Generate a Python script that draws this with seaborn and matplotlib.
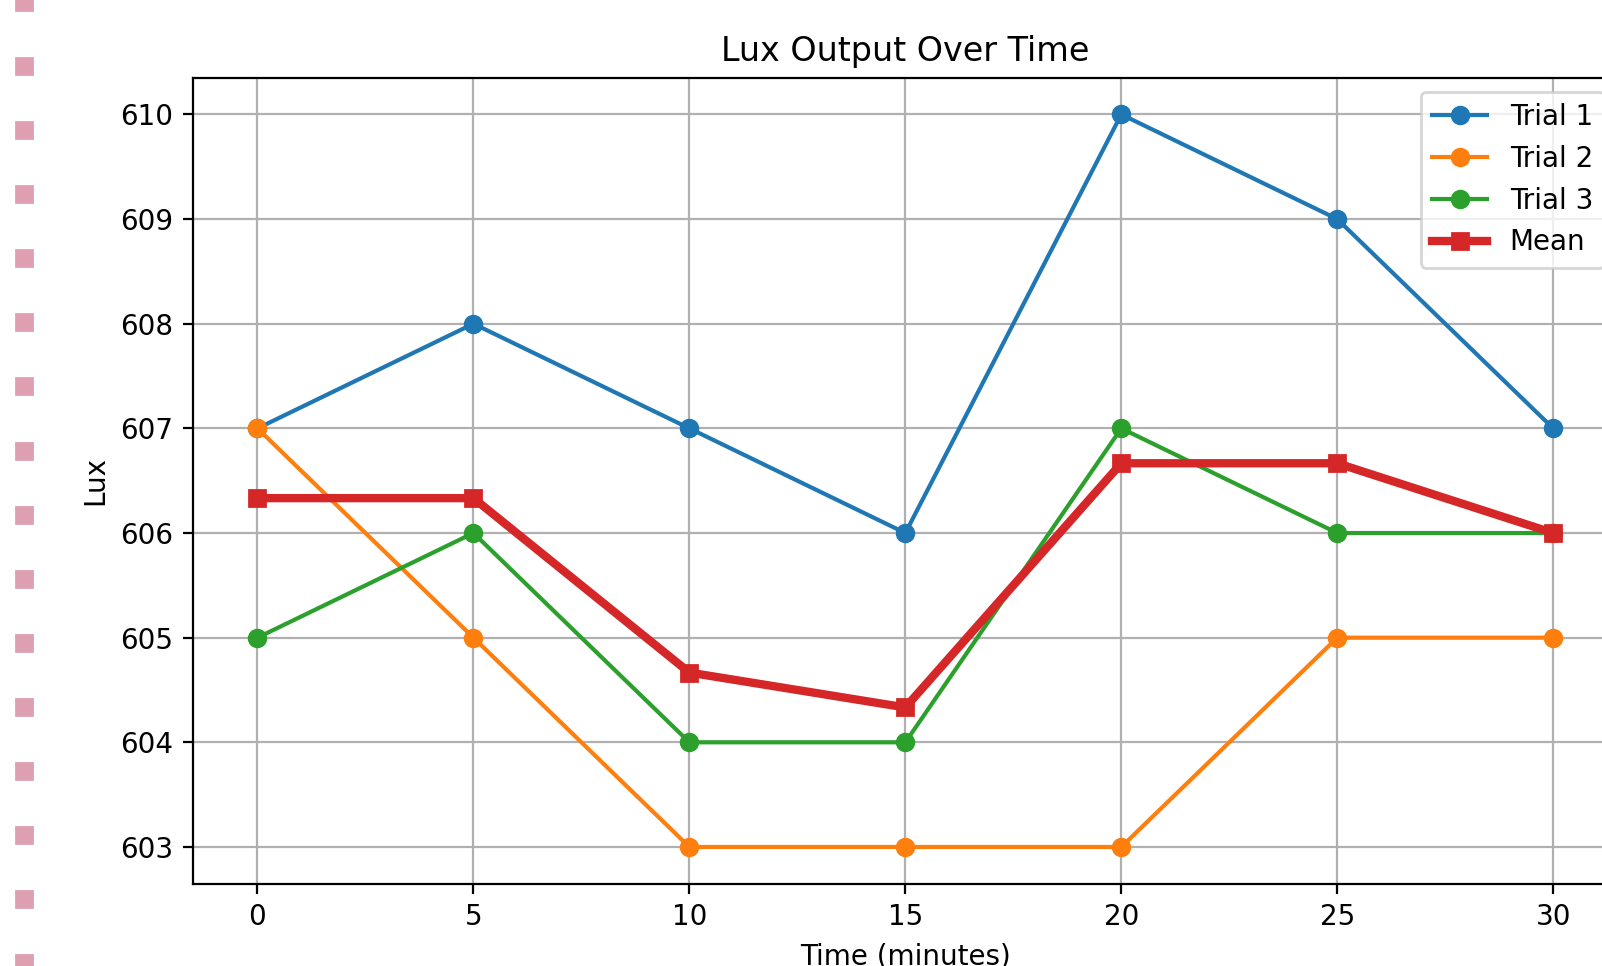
import matplotlib
matplotlib.use("Agg")
import matplotlib.pyplot as plt
from matplotlib.patches import Rectangle
import numpy as np
import pandas as pd
import seaborn as sns

# readings every 5 minutes
time_min = [0, 5, 10, 15, 20, 25, 30]
trial_1 = [607, 608, 607, 606, 610, 609, 607]
trial_2 = [607, 605, 603, 603, 603, 605, 605]
trial_3 = [605, 606, 604, 604, 607, 606, 606]
trial_names = ["Trial 1", "Trial 2", "Trial 3"]
trial_colors = ["#1f77b4", "#ff7f0e", "#2ca02c"]

data = pd.DataFrame({"time": time_min, "Trial 1": trial_1,
                     "Trial 2": trial_2, "Trial 3": trial_3})
data["Mean"] = data[trial_names].mean(axis=1)

W, H = 1602, 966
fig = plt.figure(figsize=(W / 200, H / 200), dpi=200)

# the screenshot is cropped: axes run past the right edge
ax = fig.add_axes([192.7 / W, 1 - 883.6 / H, 1425.3 / W, 805.8 / H])

for name, col in zip(trial_names, trial_colors):
    sns.lineplot(data=data, x="time", y=name, ax=ax, color=col, marker="o",
                 markersize=6, markeredgecolor=col, markeredgewidth=1,
                 linewidth=1.5, label=name)
sns.lineplot(data=data, x="time", y="Mean", ax=ax, color="#d62728", marker="s",
             markersize=6, markeredgecolor="#d62728", markeredgewidth=1,
             linewidth=3, label="Mean")

ax.set_title("Lux Output Over Time", fontsize=12)
ax.set_xlabel("Time (minutes)")
ax.set_ylabel("Lux")
ax.set_xticks(time_min)
ax.grid(True, color="#b0b0b0", linewidth=0.8)
ax.legend(loc="upper right")

# pink dotted border on the left side of the screenshot
for i in range(16):
    y_top = -6 + 64.08 * i
    fig.patches.append(Rectangle((16 / W, 1 - (y_top + 16) / H), 16 / W, 16 / H,
                                 transform=fig.transFigure, color="#dea0b0",
                                 zorder=0))

fig.savefig("out.png", dpi=200)
